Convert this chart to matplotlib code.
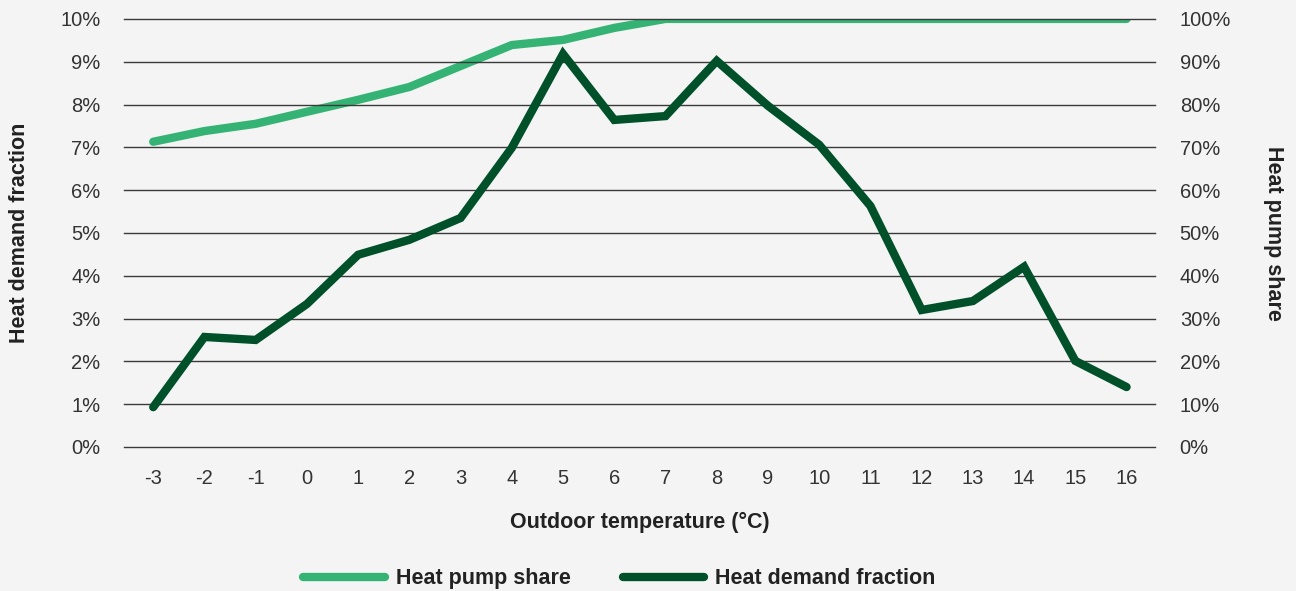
import numpy as np
import matplotlib.pyplot as plt
from matplotlib.ticker import PercentFormatter

# Дані з графіка
temps = [-3, -2, -1, 0, 1, 2, 3, 4, 5, 6, 7, 8, 9, 10, 11, 12, 13, 14, 15, 16]
heat_demand = [0.93, 2.57, 2.50, 3.34, 4.49, 4.84, 5.35, 6.99, 9.18, 7.64,
               7.73, 9.02, 7.97, 7.06, 5.63, 3.20, 3.41, 4.21, 2.01, 1.40]
hp_share = [71.3, 73.8, 75.5, 78.3, 81.1, 84.1, 89.0, 93.9, 95.1, 97.9,
            100, 100, 100, 100, 100, 100, 100, 100, 100, 100]

bg = '#f4f4f4'
light_green = '#35b374'
dark_green = '#00502a'
text_col = '#333333'

plt.rcParams['font.family'] = ['Liberation Sans', 'DejaVu Sans']

fig = plt.figure(figsize=(12.96, 5.91), dpi=100, facecolor=bg)
ax = fig.add_axes([0.0957, 0.2437, 0.7953, 0.7243])
ax.set_facecolor(bg)
ax2 = ax.twinx()

x = np.arange(len(temps))
l2, = ax2.plot(x, hp_share, color=light_green, lw=6, solid_capstyle='round',
               label='Heat pump share')
l1, = ax.plot(x, heat_demand, color=dark_green, lw=6, solid_capstyle='round',
              solid_joinstyle='miter', label='Heat demand fraction')
ax.set_zorder(ax2.get_zorder() + 1)
ax.patch.set_visible(False)

ax.set_xlim(-0.57, len(temps) - 0.45)
ax.set_ylim(0, 10)
ax2.set_ylim(0, 100)
ax.set_yticks(np.arange(0, 11, 1))
ax2.set_yticks(np.arange(0, 101, 10))
ax.yaxis.set_major_formatter(PercentFormatter(decimals=0))
ax2.yaxis.set_major_formatter(PercentFormatter(decimals=0))
ax.set_xticks(x)
ax.set_xticklabels([str(t) for t in temps])

ax.grid(axis='y', color='#3a3a3a', lw=1)
for g in ax.get_ygridlines():
    g.set_clip_on(False)
ax.set_axisbelow(True)
for a in (ax, ax2):
    for s in a.spines.values():
        s.set_visible(False)
    a.tick_params(length=0, labelsize=14.5, colors=text_col)
ax.tick_params(axis='y', pad=17)
ax2.tick_params(axis='y', pad=18)
ax.tick_params(axis='x', pad=16)

ax.set_xlabel('Outdoor temperature (°C)', fontsize=15.5, fontweight='bold',
              color='#222222', labelpad=17)
ax.set_ylabel('Heat demand fraction', fontsize=15.5, fontweight='bold',
              color='#222222', labelpad=22)
ax2.set_ylabel('Heat pump share', fontsize=15.5, fontweight='bold',
               color='#222222', rotation=270, labelpad=38)

leg = fig.legend(handles=[l2, l1], loc='lower center', bbox_to_anchor=(0.478, -0.03),
                 ncol=2, frameon=False, fontsize=15.5, handlelength=3.8,
                 columnspacing=2.4, handletextpad=0.5)
for t in leg.get_texts():
    t.set_fontweight('bold')
    t.set_color('#222222')

plt.savefig('out.png', dpi=100, facecolor=bg)
